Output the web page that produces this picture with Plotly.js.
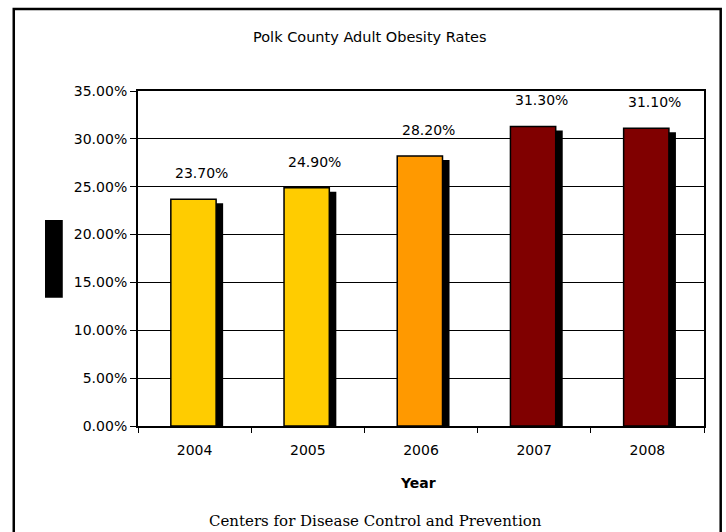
<!DOCTYPE html>
<html>
<head>
<meta charset="utf-8">
<script src="https://cdn.plot.ly/plotly-3.0.1.min.js"></script>
<style>html,body{margin:0;padding:0;background:#fff;}#chart{width:726px;height:532px;}</style>
</head>
<body>
<div id="chart"></div>
<script>
var years = ['2004', '2005', '2006', '2007', '2008'];
var rates = [0.237, 0.249, 0.282, 0.313, 0.311];
var barColors = ['#FFCC00', '#FFCC00', '#FF9900', '#800000', '#800000'];
var labels = ['23.70%', '24.90%', '28.20%', '31.30%', '31.10%'];
var yTicks = [0, 0.05, 0.10, 0.15, 0.20, 0.25, 0.30, 0.35];
var yTickText = ['0.00%', '5.00%', '10.00%', '15.00%', '20.00%', '25.00%', '30.00%', '35.00%'];

var FONT = 'DejaVu Sans, Arial, sans-serif';
var W = 0.4, OFF = -0.21, SH_X = 0.062, SH_Y = 0.0042;

var shadow = {
  type: 'bar', x: years, y: rates.map(function(v){return v - SH_Y;}),
  width: W, offset: OFF + SH_X,
  marker: {color: '#000000', line: {width: 0}},
  hoverinfo: 'skip', showlegend: false
};
var bars = {
  type: 'bar', x: years, y: rates,
  width: W, offset: OFF,
  marker: {color: barColors, line: {color: '#000000', width: 1.5}},
  showlegend: false
};

var annotations = years.map(function(yr, i){
  return {x: i, y: rates[i], xref: 'x', yref: 'y', text: labels[i], showarrow: false,
    yshift: 26, xshift: 7, font: {family: FONT, size: 14, color: '#000'}};
});
annotations.push({x: 0.41, y: 1.0, xref: 'paper', yref: 'paper', xanchor: 'center', yanchor: 'middle',
  yshift: 54, text: 'Polk County Adult Obesity Rates', showarrow: false,
  font: {family: FONT, size: 14.5, color: '#000'}});
annotations.push({x: 0.4947, y: 0, xref: 'paper', yref: 'paper', xanchor: 'center', yanchor: 'middle',
  yshift: -57, text: '<b>Year</b>', showarrow: false,
  font: {family: FONT, size: 14, color: '#000'}});
annotations.push({x: 0.419, y: 0, xref: 'paper', yref: 'paper', xanchor: 'center', yanchor: 'middle',
  yshift: -95, text: 'Centers for Disease Control and Prevention', showarrow: false,
  font: {family: 'DejaVu Serif, Liberation Serif, serif', size: 15, color: '#000'}});

var layout = {
  width: 726, height: 532,
  margin: {l: 138, r: 22, t: 91, b: 106},
  paper_bgcolor: '#ffffff', plot_bgcolor: '#ffffff',
  barmode: 'overlay',
  xaxis: {
    type: 'category', range: [-0.5, 4.5], autorange: false,
    showgrid: false, showline: true, linecolor: '#000', linewidth: 2, mirror: true,
    ticks: 'outside', tickson: 'boundaries', ticklen: 5, tickcolor: '#000', tickangle: 0,
    ticklabelstandoff: 10,
    tickfont: {family: FONT, size: 14, color: '#000'}, zeroline: false
  },
  yaxis: {
    range: [0, 0.35], autorange: false, tickvals: yTicks, ticktext: yTickText,
    showgrid: true, gridcolor: '#000', gridwidth: 1,
    showline: true, linecolor: '#000', linewidth: 2, mirror: true,
    ticks: 'outside', ticklen: 6, tickcolor: '#000',
    tickfont: {family: FONT, size: 14, color: '#000'}, zeroline: false
  },
  shapes: [
    {type: 'rect', xref: 'paper', yref: 'paper', x0: -0.2195, x1: 1.0295, y0: -0.4, y1: 1.2448,
      line: {color: '#000', width: 2.5}, fillcolor: 'rgba(0,0,0,0)', layer: 'below'},
    {type: 'rect', xref: 'paper', yref: 'paper', x0: -0.1643, x1: -0.1329, y0: 0.3825, y1: 0.6149,
      line: {width: 0}, fillcolor: '#000'}
  ],
  annotations: annotations
};

Plotly.newPlot('chart', [shadow, bars], layout, {displayModeBar: false, staticPlot: true});
</script>
</body>
</html>
